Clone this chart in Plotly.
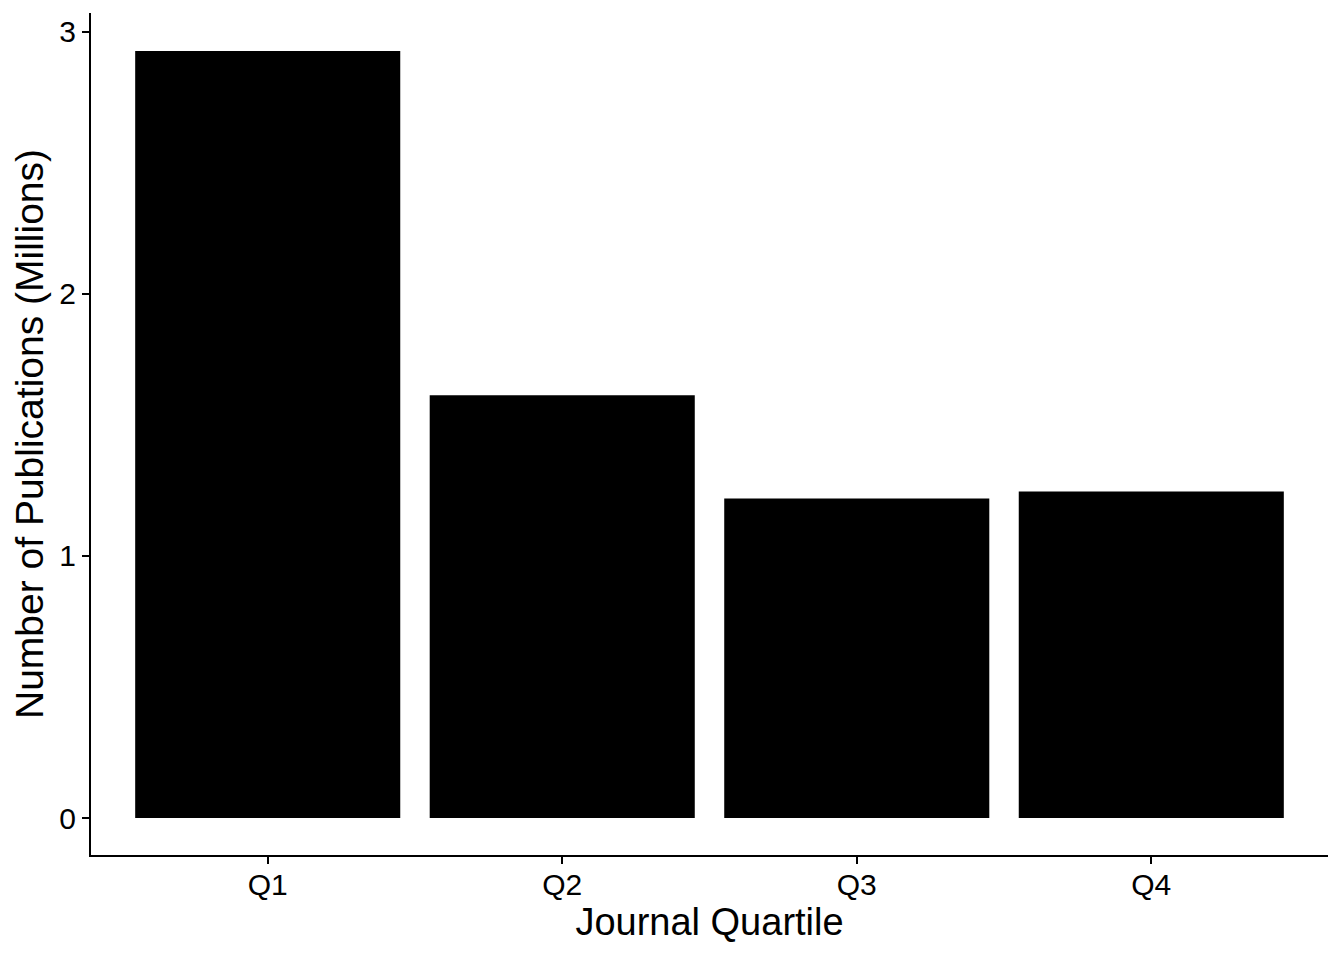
import plotly.graph_objects as go

quartiles = ['Q1', 'Q2', 'Q3', 'Q4']
publications_millions = [2.927, 1.613, 1.219, 1.246]

fig = go.Figure(data=[
    go.Bar(x=quartiles, y=publications_millions, marker_color='black',
           marker_line_width=0, width=0.9)
])

axis_style = dict(
    showline=True, linecolor='black', linewidth=2.2,
    ticks='outside', ticklen=7, tickwidth=2.2, tickcolor='black',
    showgrid=False, zeroline=False,
    tickfont=dict(size=30, color='black'),
)

# page body has an 8px margin, so offsets are compensated here
fig.update_layout(
    width=1344, height=960,
    plot_bgcolor='white', paper_bgcolor='white',
    font=dict(family='Liberation Sans, Arial, sans-serif', color='black'),
    margin=dict(l=83, r=24, t=5, b=113),
    showlegend=False,
    bargap=0.1,
)
fig.update_xaxes(axis_style, ticklabelstandoff=-5,
                 title=dict(text='Journal Quartile', font=dict(size=38), standoff=8),
                 range=[-0.6, 3.6])
fig.update_yaxes(axis_style,
                 title=dict(text='Number of Publications (Millions)', font=dict(size=39), standoff=4),
                 range=[-0.141, 3.072], tickvals=[0, 1, 2, 3])

fig.write_html("out.html")
